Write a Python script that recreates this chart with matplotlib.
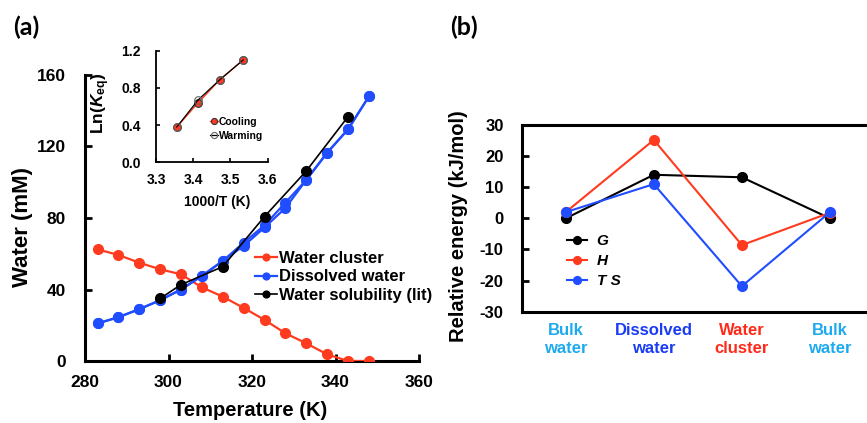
import matplotlib
matplotlib.use("Agg")
import matplotlib.pyplot as plt
import numpy as np

plt.rcParams['font.family'] = ['Liberation Sans', 'DejaVu Sans']
plt.rcParams['font.weight'] = 'bold'
plt.rcParams['axes.unicode_minus'] = False
plt.rcParams['mathtext.fontset'] = 'custom'
plt.rcParams['mathtext.rm'] = 'Liberation Sans:bold'
plt.rcParams['mathtext.it'] = 'Liberation Sans:italic:bold'
plt.rcParams['mathtext.bf'] = 'Liberation Sans:bold'

# ---- Panel (a) data ----
temperature = [283, 288, 293, 298, 303, 308, 313, 318, 323, 328, 333, 338, 343, 348]
water_cluster = [62.5, 59.3, 55, 51.3, 48.5, 41.2, 36, 29.7, 23, 15.5, 9.9, 3.7, 0, 0]
dissolved_water = [21, 24.5, 29, 34, 40, 47.6, 56, 66.2, 75.9, 88.6, 101.3, 116.5, 129.6, 148]
dissolved_water_rep = [21, 24.5, 29, 34, 40, 47.6, 56, 64.4, 74.7, 85.6, 101.3, 116.5, 129.6, 148]
lit_temperature = [298, 303, 313, 323, 333, 343]
lit_solubility = [35, 42.7, 52.8, 80.8, 106.3, 136.7]

inv_T = [3.356, 3.413, 3.472, 3.534]
lnK_cooling = [0.38, 0.64, 0.89, 1.10]
lnK_warming = [0.38, 0.67, 0.89, 1.10]

# ---- Panel (b) data ----
states = ['Bulk\nwater', 'Dissolved\nwater', 'Water\ncluster', 'Bulk\nwater']
state_colors = ['#1eaaf0', '#1a3cf5', '#ff2a1a', '#1eaaf0']
G = [0, 14, 13.2, 0]
H = [2, 25.2, -8.6, 1.8]
TS = [2, 11, -21.8, 2]

RED = '#ff3b1f'
BLUE = '#1f4dff'

W, Hh = 867, 423
fig = plt.figure(figsize=(W / 100, Hh / 100), dpi=100)

def rect(l, r, t, b):
    return [l / W, 1 - b / Hh, (r - l) / W, (b - t) / Hh]

# Main axes (a)
ax = fig.add_axes(rect(85, 419, 75, 361))
ax.plot(temperature, water_cluster, '-o', color=RED, lw=1.6, ms=7, label='Water cluster', zorder=3)
ax.plot(temperature, dissolved_water_rep, '-o', color=BLUE, lw=1.6, ms=7, zorder=3)
ax.plot(temperature, dissolved_water, '-o', color=BLUE, lw=1.6, ms=7, label='Dissolved water', zorder=3)
ax.plot(lit_temperature, lit_solubility, '-o', color='black', lw=1.2, ms=7, label='Water solubility (lit)', zorder=4)
ax.set_xlim(280, 360)
ax.set_ylim(0, 160)
ax.set_xticks([280, 300, 320, 340, 360])
ax.set_yticks([0, 40, 80, 120, 160])
for s in ['top', 'right']:
    ax.spines[s].set_visible(False)
for s in ['left', 'bottom']:
    ax.spines[s].set_linewidth(2.2)
ax.tick_params(direction='in', length=5, width=2, labelsize=12.5)
ax.tick_params(axis='y', pad=14)
ax.tick_params(axis='x', pad=10)
for lab in ax.get_xticklabels() + ax.get_yticklabels():
    lab.set_fontweight('bold')
ax.set_xlabel('Temperature (K)', fontsize=14.5, fontweight='bold')
ax.set_ylabel('Water (mM)', fontsize=16, fontweight='bold')
ax.xaxis.set_label_coords(0.494, -0.14)
ax.yaxis.set_label_coords(-0.155, 0.47)
leg = ax.legend(loc='center left', bbox_to_anchor=(0.51, 0.294), frameon=False,
                fontsize=12, handlelength=1.3, handletextpad=0.1, labelspacing=0.2,
                borderpad=0, borderaxespad=0, markerscale=0.7)
for t in leg.get_texts():
    t.set_fontweight('bold')

# Inset
ins = fig.add_axes(rect(156, 267.7, 50.7, 162.3))
ins.plot(inv_T, lnK_cooling, '-o', color=RED, lw=1.0, ms=5.5, mfc=RED, mec='#333333', mew=0.8, label='Cooling')
ins.plot(inv_T, lnK_warming, '-o', color='black', lw=0.9, ms=5.5, mfc='none', mec='#666666', mew=0.8, label='Warming')
ins.set_xlim(3.3, 3.6)
ins.set_ylim(0, 1.2)
ins.set_xticks([3.3, 3.4, 3.5, 3.6])
ins.set_yticks([0.0, 0.4, 0.8, 1.2])
ins.xaxis.set_major_formatter(matplotlib.ticker.FormatStrFormatter('%.1f'))
ins.yaxis.set_major_formatter(matplotlib.ticker.FormatStrFormatter('%.1f'))
for s in ['top', 'right']:
    ins.spines[s].set_visible(False)
for s in ['left', 'bottom']:
    ins.spines[s].set_linewidth(1.3)
ins.tick_params(direction='in', length=3, width=1.2, labelsize=10)
ins.tick_params(axis='y', pad=11)
ins.tick_params(axis='x', pad=8)
for lab in ins.get_xticklabels() + ins.get_yticklabels():
    lab.set_fontweight('bold')
ins.set_xlabel('1000/T (K)', fontsize=10, fontweight='bold')
ins.set_ylabel(r'Ln($K_{\rm eq}$)', fontsize=12.5, fontweight='bold')
ins.xaxis.set_label_coords(0.546, -0.29)
ins.yaxis.set_label_coords(-0.39, 0.53)
leg2 = ins.legend(loc='center left', bbox_to_anchor=(0.48, 0.30), frameon=False,
                  fontsize=7.5, handlelength=0.8, handletextpad=0.1, labelspacing=0.35,
                  borderpad=0, borderaxespad=0, markerscale=0.8)
for t in leg2.get_texts():
    t.set_fontweight('bold')

# Panel (b)
axb = fig.add_axes(rect(521.7, 874, 125, 311.7))
x = np.arange(len(states))
axb.plot(x, G, '-o', color='black', lw=1.5, ms=7, label='G', zorder=3)
axb.plot(x, H, '-o', color=RED, lw=1.5, ms=7, label='H', zorder=3)
axb.plot(x, TS, '-o', color=BLUE, lw=1.5, ms=7, label='T S', zorder=3)
axb.set_xlim(-0.5, 3.5)
axb.set_ylim(-30, 30)
axb.set_yticks([-30, -20, -10, 0, 10, 20, 30])
axb.set_xticks(x)
axb.set_xticklabels(states, fontsize=12, fontweight='bold', linespacing=1.25)
for lab, c in zip(axb.get_xticklabels(), state_colors):
    lab.set_color(c)
for s in axb.spines.values():
    s.set_linewidth(2.2)
axb.tick_params(axis='y', direction='in', length=5, width=2, labelsize=12, pad=13)
axb.tick_params(axis='x', length=0, pad=8)
for lab in axb.get_yticklabels():
    lab.set_fontweight('bold')
axb.set_ylabel('Relative energy (kJ/mol)', fontsize=14.5, fontweight='bold')
axb.yaxis.set_label_coords(-0.152, 0.456)
leg3 = axb.legend(loc='center left', bbox_to_anchor=(0.13, 0.27), frameon=False,
                  fontsize=11, handlelength=1.3, handletextpad=0.6, labelspacing=0.4,
                  borderpad=0, borderaxespad=0, markerscale=0.8)
for t in leg3.get_texts():
    t.set_fontweight('bold')
    t.set_fontstyle('italic')

# Panel labels
fig.text(13 / W, 1 - 27 / Hh, '(a)', fontsize=18, fontweight='bold', family=['Lato', 'DejaVu Sans'], va='center', ha='left')
fig.text(450 / W, 1 - 27 / Hh, '(b)', fontsize=18, fontweight='bold', family=['Lato', 'DejaVu Sans'], va='center', ha='left')

fig.savefig('out.png', dpi=100)
